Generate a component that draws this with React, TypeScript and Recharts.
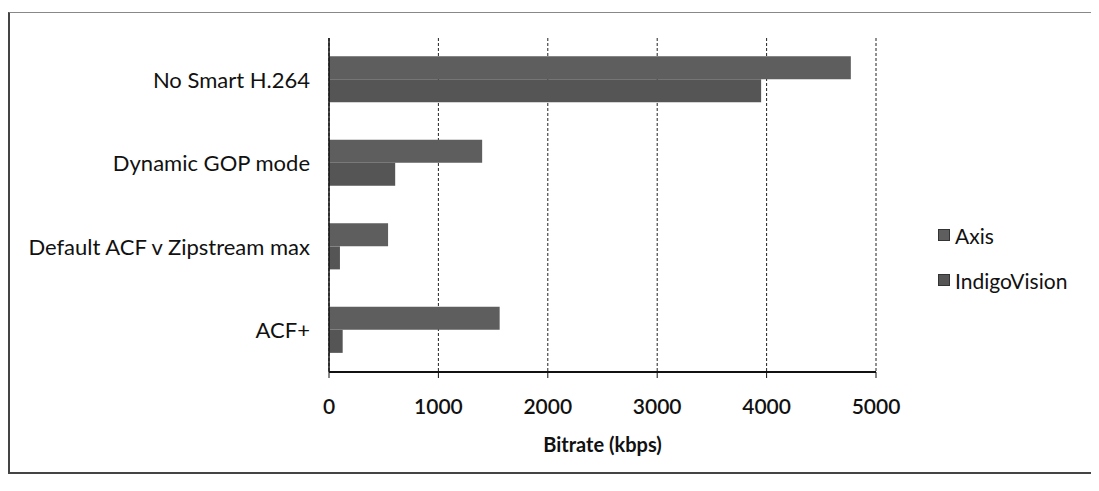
import React from 'react';
import { BarChart, Bar, XAxis, YAxis, CartesianGrid, Legend } from 'recharts';

const categories = ['No Smart H.264', 'Dynamic GOP mode', 'Default ACF v Zipstream max', 'ACF+'];
const axisValues = [4770, 1400, 540, 1560];
const indigoValues = [3950, 605, 100, 125];
const xTicks = [0, 1000, 2000, 3000, 4000, 5000];
const seriesNames = ['Axis', 'IndigoVision'];
const seriesColors = ['#5e5e5e', '#555555'];

const data = categories.map((name, i) => ({
  name,
  axis: axisValues[i],
  indigo: indigoValues[i],
}));

const FONT = 'Lato, "Open Sans", sans-serif';

const LegendContent = () => (
  <div style={{ fontFamily: FONT, fontSize: 21, color: '#111' }}>
    {seriesNames.map((n, i) => (
      <div key={n} style={{ display: 'flex', alignItems: 'center', height: 22, marginBottom: i === 0 ? 23 : 0 }}>
        <span
          style={{
            display: 'inline-block',
            width: 10,
            height: 10,
            background: seriesColors[i],
            border: '1px solid #333',
            marginRight: 5,
          }}
        />
        <span>{n}</span>
      </div>
    ))}
  </div>
);

export default function App() {
  return (
    <div style={{ position: 'relative', width: 1083, height: 475 }}>
      <div
        style={{
          position: 'absolute',
          left: 0,
          top: 4,
          width: 1083,
          height: 462,
          borderLeft: '2px solid #444',
          borderTop: '1px solid #888',
          borderBottom: '2px solid #444',
          boxSizing: 'border-box',
        }}
      />
      <BarChart
        width={1083}
        height={475}
        data={data}
        layout="vertical"
        margin={{ top: 30, right: 215, bottom: 21, left: 0 }}
        barCategoryGap="22%"
        barGap={0}
      >
        <CartesianGrid horizontal={false} vertical stroke="#222" strokeDasharray="3 2" />
        <XAxis
          type="number"
          domain={[0, 5000]}
          ticks={xTicks}
          interval={0}
          height={90}
          tickSize={6}
          tickMargin={21}
          axisLine={{ stroke: '#111', strokeWidth: 2 }}
          tickLine={{ stroke: '#111' }}
          tick={{ fontFamily: FONT, fontSize: 21, fill: '#111', fontWeight: 600 }}
          label={{
            value: 'Bitrate (kbps)',
            position: 'insideBottom',
            offset: 10,
            style: { fontFamily: FONT, fontSize: 20, fontWeight: 700, fill: '#111' },
          }}
        />
        <YAxis
          type="category"
          dataKey="name"
          width={321}
          tickLine={false}
          tickSize={6}
          tickMargin={13}
          axisLine={{ stroke: '#111', strokeWidth: 1.5 }}
          tick={{ fontFamily: FONT, fontSize: 22, fill: '#111' }}
        />
        <Legend
          layout="vertical"
          align="center"
          verticalAlign="middle"
          content={<LegendContent />}
          wrapperStyle={{ left: 930, top: 216, width: 160 }}
        />
        <Bar dataKey="axis" name="Axis" fill={seriesColors[0]} isAnimationActive={false} />
        <Bar dataKey="indigo" name="IndigoVision" fill={seriesColors[1]} isAnimationActive={false} />
      </BarChart>
    </div>
  );
}
